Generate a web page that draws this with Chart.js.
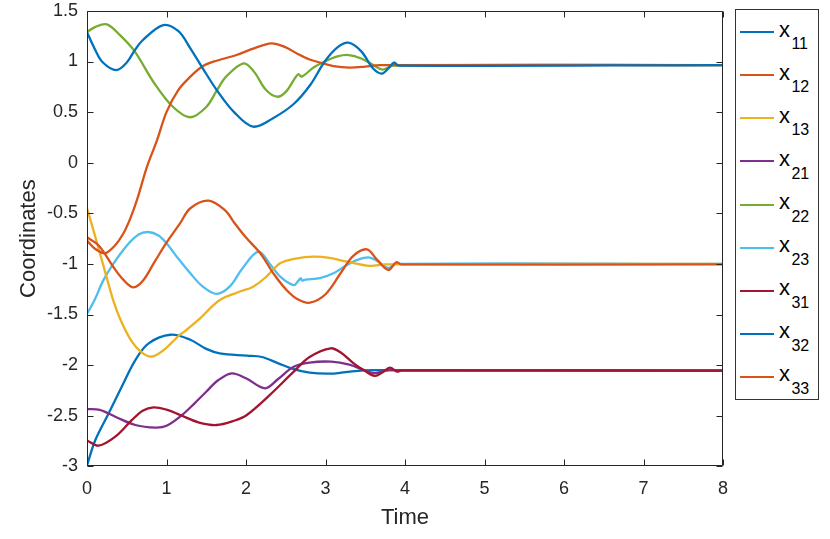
<!DOCTYPE html>
<html>
<head>
<meta charset="utf-8">
<script src="https://cdn.jsdelivr.net/npm/chart.js@4.4.0/dist/chart.umd.min.js"></script>
<style>
  html, body { margin: 0; padding: 0; background: #ffffff; }
  #wrap { position: relative; width: 830px; height: 539px; overflow: hidden; }
  #c { position: absolute; left: 0; top: 0; }
  #legendBox { position: absolute; left: 734.5px; top: 8.5px; width: 82px; height: 389px; border: 1px solid #333; background: #fff; box-sizing: content-box; }
  .sw { position: absolute; height: 2px; width: 34px; }
  .lab { position: absolute; font-family: "Liberation Sans", Arial, sans-serif; font-size: 22px; line-height: 22px; color: #000; white-space: nowrap; }
  .lab sub { font-size: 16px; vertical-align: -12.7px; line-height: 16px; margin-left: 1.4px; }
</style>
</head>
<body>
<div id="wrap">
  <canvas id="c" width="830" height="539"></canvas>
  <div id="legendBox"></div>
</div>
<script>
// ---- data (time, value) ----
const seriesNames = ["11", "12", "13", "21", "22", "23", "31", "32", "33"];
const seriesColors = ["#0072BD", "#D95319", "#EDB120", "#7E2F8E", "#77AC30", "#4DBEEE", "#A2142F", "#0072BD", "#D95319"];

const x11 = [[0,1.29],[0.1,1.12],[0.2,0.99],[0.37,0.915],[0.5,0.99],[0.6,1.11],[0.7,1.21],[0.96,1.36],[1.15,1.3],[1.3,1.13],[1.45,0.94],[1.63,0.72],[1.85,0.5],[2.09,0.356],[2.34,0.44],[2.6,0.58],[2.81,0.77],[2.99,1.0],[3.15,1.14],[3.29,1.186],[3.45,1.1],[3.6,0.93],[3.71,0.88],[3.8,0.94],[3.86,0.99],[3.92,0.96],[8,0.965]];
const x12 = [[0,-0.77],[0.1,-0.85],[0.226,-0.895],[0.35,-0.82],[0.457,-0.70],[0.55,-0.54],[0.64,-0.34],[0.75,-0.05],[0.88,0.22],[1.0,0.5],[1.15,0.72],[1.3,0.85],[1.45,0.95],[1.59,0.998],[1.88,1.064],[2.1,1.13],[2.32,1.18],[2.5,1.14],[2.64,1.08],[2.8,1.02],[2.93,0.99],[3.1,0.955],[3.3,0.94],[3.5,0.95],[3.68,0.965],[8,0.965]];
const x13 = [[0,-0.45],[0.1,-0.72],[0.2,-1.0],[0.33,-1.36],[0.42,-1.55],[0.55,-1.75],[0.68,-1.87],[0.81,-1.917],[0.95,-1.86],[1.05,-1.79],[1.17,-1.70],[1.25,-1.653],[1.4,-1.554],[1.67,-1.357],[1.9,-1.28],[2.09,-1.225],[2.25,-1.13],[2.43,-0.994],[2.64,-0.945],[2.85,-0.928],[3.05,-0.94],[3.27,-0.978],[3.56,-1.02],[3.75,-1.005],[8,-1.0]];
const x21 = [[0,-2.435],[0.16,-2.443],[0.356,-2.51],[0.608,-2.592],[0.86,-2.618],[1.0,-2.6],[1.195,-2.493],[1.35,-2.38],[1.5,-2.263],[1.65,-2.15],[1.82,-2.081],[2.0,-2.13],[2.24,-2.229],[2.4,-2.14],[2.6,-2.016],[2.8,-1.975],[3.07,-1.966],[3.3,-1.995],[3.48,-2.049],[3.62,-2.08],[3.8,-2.05],[8,-2.055]];
const x22 = [[0,1.29],[0.1,1.34],[0.25,1.367],[0.415,1.26],[0.6,1.1],[0.834,0.8],[1.08,0.553],[1.3,0.449],[1.5,0.55],[1.63,0.71],[1.75,0.85],[1.97,0.982],[2.1,0.9],[2.25,0.72],[2.39,0.652],[2.5,0.7],[2.62,0.84],[2.66,0.876],[2.7,0.85],[2.85,0.94],[2.99,1.0],[3.15,1.05],[3.29,1.064],[3.45,1.03],[3.6,0.965],[3.72,0.92],[3.85,0.96],[8,0.965]];
const x23 = [[0,-1.495],[0.1,-1.35],[0.2,-1.17],[0.33,-1.0],[0.5,-0.82],[0.65,-0.71],[0.77,-0.685],[0.9,-0.72],[1.0,-0.797],[1.15,-0.95],[1.3,-1.093],[1.45,-1.22],[1.63,-1.297],[1.8,-1.22],[1.95,-1.05],[2.155,-0.879],[2.3,-1.0],[2.43,-1.126],[2.6,-1.21],[2.66,-1.165],[2.69,-1.14],[2.705,-1.165],[2.75,-1.155],[2.93,-1.14],[3.1,-1.093],[3.27,-1.01],[3.4,-0.96],[3.54,-0.935],[3.65,-0.97],[3.79,-1.04],[3.88,-1.0],[8,-1.0]];
const x31 = [[0,-2.745],[0.147,-2.796],[0.356,-2.707],[0.566,-2.542],[0.7,-2.45],[0.838,-2.417],[1.0,-2.44],[1.17,-2.493],[1.4,-2.565],[1.63,-2.592],[1.85,-2.55],[2.01,-2.493],[2.3,-2.295],[2.6,-2.065],[2.8,-1.92],[3.065,-1.834],[3.2,-1.88],[3.35,-1.98],[3.48,-2.049],[3.62,-2.107],[3.72,-2.07],[3.81,-2.025],[3.9,-2.065],[3.95,-2.055],[8,-2.055]];
const x32 = [[0,-2.99],[0.105,-2.74],[0.273,-2.476],[0.44,-2.21],[0.608,-1.95],[0.775,-1.785],[1.05,-1.70],[1.3,-1.75],[1.5,-1.84],[1.67,-1.884],[2.01,-1.907],[2.2,-1.92],[2.4,-1.98],[2.6,-2.04],[2.8,-2.075],[3.05,-2.085],[3.25,-2.07],[3.48,-2.052],[3.7,-2.05],[8,-2.055]];
const x33 = [[0,-0.737],[0.15,-0.82],[0.33,-1.028],[0.45,-1.15],[0.58,-1.231],[0.7,-1.17],[0.85,-0.98],[1.0,-0.79],[1.17,-0.6],[1.3,-0.45],[1.53,-0.375],[1.75,-0.48],[1.84,-0.58],[2.0,-0.74],[2.18,-0.895],[2.35,-1.1],[2.51,-1.258],[2.65,-1.35],[2.805,-1.383],[3.0,-1.3],[3.2,-1.08],[3.35,-0.92],[3.52,-0.856],[3.65,-0.96],[3.79,-1.06],[3.89,-0.984],[3.95,-1.004],[8,-1.004]];

const seriesValues = [x11, x12, x13, x21, x22, x23, x31, x32, x33];
const xTitle = "Time";
const yTitle = "Coordinates";
const xRange = [0, 8];
const yRange = [-3, 1.5];

// ---- chart ----
const AXIS = "#262626";
const FONT = '"Liberation Sans", Arial, sans-serif';
const onTop = new Set(["11", "31", "33"]);

const datasets = seriesValues.map((pts, i) => ({
  label: "x" + seriesNames[i],
  data: pts.map(p => ({ x: p[0], y: p[1] })),
  borderColor: seriesColors[i],
  backgroundColor: seriesColors[i],
  borderWidth: 2.3,
  pointRadius: 0,
  fill: false,
  tension: 0.35,
  borderCapStyle: "round",
  borderJoinStyle: "round",
  order: onTop.has(seriesNames[i]) ? 0 : 1
}));

const framePlugin = {
  id: "frame",
  afterDatasetsDraw(chart) {
    const { ctx, chartArea: a, scales } = chart;
    const L = Math.round(a.left) + 0.5, R = Math.round(a.right) - 0.5;
    const T = Math.round(a.top) + 0.5, B = Math.round(a.bottom) - 0.5;
    ctx.save();
    ctx.strokeStyle = AXIS;
    ctx.lineWidth = 1;
    ctx.beginPath();
    ctx.rect(L, T, R - L, B - T);
    ctx.stroke();
    const tl = 6;
    ctx.beginPath();
    scales.x.ticks.forEach(t => {
      const px = Math.round(scales.x.getPixelForValue(t.value)) + 0.5;
      ctx.moveTo(px, B); ctx.lineTo(px, B - tl);
      ctx.moveTo(px, T); ctx.lineTo(px, T + tl);
    });
    scales.y.ticks.forEach(t => {
      const py = Math.round(scales.y.getPixelForValue(t.value)) + 0.5;
      ctx.moveTo(L, py); ctx.lineTo(L + tl, py);
      ctx.moveTo(R, py); ctx.lineTo(R - tl, py);
    });
    ctx.stroke();
    ctx.restore();
  }
};

new Chart(document.getElementById("c"), {
  type: "line",
  data: { datasets },
  plugins: [framePlugin],
  options: {
    responsive: false,
    devicePixelRatio: 1,
    animation: false,
    events: [],
    layout: { padding: { top: 10.9, right: 107, left: 0, bottom: 0 } },
    plugins: { legend: { display: false }, tooltip: { enabled: false } },
    scales: {
      x: {
        type: "linear",
        min: xRange[0], max: xRange[1],
        afterFit(s) { s.height = 72.7; s.paddingLeft = 0; s.paddingRight = 0; },
        grid: { display: false, drawTicks: false },
        border: { display: false },
        ticks: { stepSize: 1, padding: 12, color: AXIS, font: { family: FONT, size: 18 }, maxRotation: 0 },
        title: { display: true, text: xTitle, color: AXIS, font: { family: FONT, size: 22 }, padding: { top: 0, bottom: 7.5 } }
      },
      y: {
        type: "linear",
        min: yRange[0], max: yRange[1],
        afterFit(s) { s.width = 87; s.paddingTop = 0; s.paddingBottom = 0; },
        grid: { display: false, drawTicks: false },
        border: { display: false },
        ticks: { stepSize: 0.5, padding: 9, color: AXIS, font: { family: FONT, size: 18 },
                 callback: v => String(Number(v.toFixed(2))) },
        title: { display: true, text: yTitle, color: AXIS, font: { family: FONT, size: 22 }, padding: { top: 16, bottom: 0 } }
      }
    }
  }
});

// ---- legend (HTML text with subscripts) ----
const wrap = document.getElementById("wrap");
seriesNames.forEach((n, i) => {
  const ly = 32.3 + 43.05 * i;
  const sw = document.createElement("div");
  sw.className = "sw";
  sw.style.left = "740px";
  sw.style.top = (ly - 1) + "px";
  sw.style.background = seriesColors[i];
  wrap.appendChild(sw);
  const lab = document.createElement("span");
  lab.className = "lab";
  lab.style.left = "779px";
  lab.style.top = (ly - 13.6) + "px";
  lab.innerHTML = "x<sub>" + n + "</sub>";
  wrap.appendChild(lab);
});
</script>
</body>
</html>
